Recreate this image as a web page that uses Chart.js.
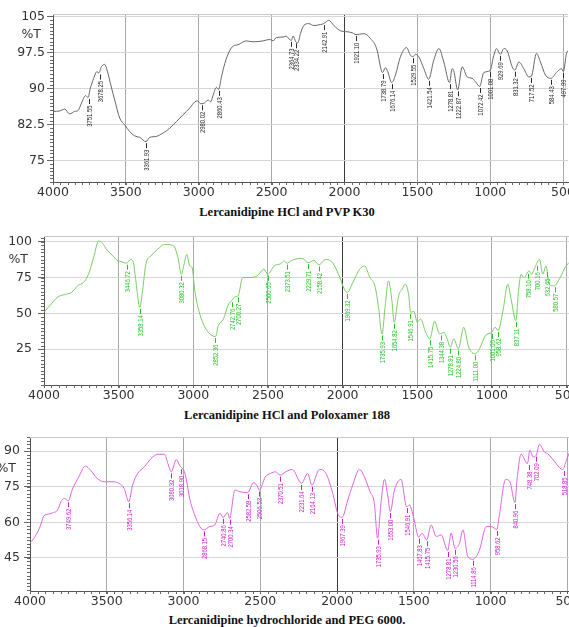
<!DOCTYPE html>
<html>
<head>
<meta charset="utf-8">
<script src="https://cdn.jsdelivr.net/npm/chart.js@4.4.1/dist/chart.umd.min.js"></script>
<style>
  body { margin: 0; background: #fff; width: 569px; height: 627px; position: relative; overflow: hidden; }
  .panel { position: absolute; left: 0; }
  .title { position: absolute; left: 0; width: 574px; text-align: center; font: bold 12.5px 'Liberation Serif', 'Times New Roman', serif; color: #111; white-space: nowrap; }
</style>
</head>
<body>
<div class="panel" style="top:0"><canvas id="pvpChart" width="569" height="200"></canvas></div>
<div class="title" style="top:205px">Lercanidipine HCl and PVP K30</div>
<div class="panel" style="top:225px"><canvas id="poloxamerChart" width="569" height="180"></canvas></div>
<div class="title" style="top:408px">Lercanidipine HCl and Poloxamer 188</div>
<div class="panel" style="top:430px"><canvas id="pegChart" width="569" height="180"></canvas></div>
<div class="title" style="top:613px">Lercanidipine hydrochloride and PEG 6000.</div>

<script>
// wavenumber ticks shared by all three spectra (cm-1)
const xTickValues = [4000, 3500, 3000, 2500, 2000, 1500, 1000, 500];

// Lercanidipine HCl + PVP K30
const pvpWavenumbers = [4000, 3954, 3920, 3886, 3851, 3828, 3805, 3776, 3760, 3744, 3721, 3698, 3686, 3668, 3645, 3629, 3600, 3577, 3542, 3508, 3474, 3439, 3405, 3362, 3336, 3291, 3245, 3199, 3153, 3108, 3062, 3027, 3009, 2986, 2959, 2936, 2918, 2901, 2879, 2863, 2844, 2821, 2787, 2764, 2730, 2673, 2627, 2558, 2513, 2490, 2467, 2421, 2400, 2380, 2365, 2352, 2334, 2320, 2302, 2279, 2245, 2210, 2165, 2142, 2108, 2073, 2027, 1982, 1947, 1921, 1895, 1867, 1822, 1776, 1753, 1739, 1719, 1703, 1676, 1650, 1616, 1574, 1547, 1530, 1513, 1490, 1455, 1422, 1387, 1352, 1318, 1279, 1261, 1250, 1223, 1192, 1158, 1124, 1101, 1072, 1044, 1001, 975, 956, 930, 906, 883, 849, 831, 803, 769, 735, 718, 682, 655, 621, 584, 540, 511, 498, 476, 460];
const pvpTransmittance = [85.2, 85.3, 85.7, 84.7, 85.2, 85.4, 86.9, 88.5, 88.1, 90.0, 92.1, 93.5, 93.2, 94.5, 95.0, 93.8, 90.3, 87.6, 83.8, 82.4, 81.0, 80.1, 79.8, 78.9, 79.8, 80.0, 80.7, 81.7, 83.1, 84.5, 85.9, 87.2, 87.4, 86.8, 87.0, 87.6, 87.2, 88.6, 90.2, 89.8, 92.4, 95.2, 97.9, 98.8, 99.1, 99.9, 99.7, 99.9, 100.2, 99.9, 100.6, 100.7, 100.9, 100.3, 100.0, 100.9, 99.7, 99.5, 101.4, 103.1, 103.5, 103.1, 103.3, 103.5, 104.2, 103.1, 102.0, 101.8, 101.6, 101.2, 101.3, 101.4, 100.4, 98.0, 94.5, 93.3, 94.3, 93.5, 91.2, 92.8, 96.6, 98.5, 96.9, 96.6, 97.1, 96.6, 94.1, 91.9, 95.9, 98.3, 95.5, 91.2, 94.1, 93.7, 89.7, 94.5, 92.4, 92.1, 91.4, 90.4, 93.3, 93.7, 96.9, 98.3, 97.1, 98.3, 97.8, 94.5, 93.8, 95.5, 94.1, 92.4, 92.5, 97.3, 95.5, 92.8, 92.1, 93.5, 94.1, 93.5, 97.3, 98.0];
const pvpPeaks = [3751.55, 3678.25, 3361.93, 2980.02, 2860.43, 2364.73, 2334.22, 2142.91, 1921.10, 1738.79, 1676.14, 1529.55, 1421.54, 1278.81, 1222.87, 1072.42, 1001.08, 929.69, 831.32, 717.52, 584.43, 497.99];
const pvpYTicks = [105, 97.5, 90, 82.5, 75];

// Lercanidipine HCl + Poloxamer 188
const poloxamerWavenumbers = [4000, 3962, 3905, 3849, 3815, 3770, 3736, 3702, 3668, 3634, 3611, 3577, 3544, 3510, 3476, 3447, 3419, 3401, 3385, 3358, 3340, 3318, 3284, 3239, 3193, 3148, 3126, 3103, 3080, 3062, 3044, 3024, 3008, 2990, 2963, 2933, 2900, 2852, 2832, 2798, 2764, 2743, 2719, 2700, 2669, 2628, 2572, 2527, 2501, 2459, 2414, 2391, 2374, 2341, 2273, 2230, 2193, 2158, 2114, 2068, 2023, 1989, 1969, 1932, 1886, 1852, 1818, 1784, 1761, 1736, 1716, 1693, 1670, 1655, 1625, 1602, 1580, 1557, 1545, 1523, 1500, 1478, 1444, 1416, 1384, 1350, 1322, 1300, 1279, 1256, 1225, 1189, 1156, 1111, 1078, 1044, 1001, 979, 959, 926, 894, 872, 840, 822, 805, 787, 751, 734, 713, 681, 660, 638, 617, 585, 543, 511, 485];
const poloxamerTransmittance = [50.7, 55.3, 61.6, 63.4, 64.6, 69.7, 71.5, 77.3, 88.9, 100.5, 99.3, 94.0, 90.7, 87.0, 85.9, 85.0, 87.7, 85.4, 72.7, 54.2, 65.7, 84.3, 90.0, 94.7, 98.1, 97.7, 96.3, 88.9, 77.3, 84.3, 91.2, 83.1, 81.9, 65.7, 51.9, 42.6, 36.8, 33.8, 41.4, 46.1, 56.5, 58.8, 61.6, 62.3, 75.0, 75.0, 76.2, 80.8, 77.3, 83.1, 84.7, 86.6, 85.0, 87.0, 88.4, 85.4, 87.0, 83.8, 87.7, 85.4, 76.2, 66.9, 64.6, 71.5, 80.8, 83.1, 75.0, 69.2, 55.3, 35.6, 54.2, 72.7, 58.8, 43.8, 62.3, 66.9, 70.4, 62.3, 50.7, 51.4, 43.8, 46.1, 36.8, 32.2, 44.4, 35.6, 36.8, 32.2, 26.4, 32.2, 25.2, 40.3, 26.4, 21.8, 26.4, 34.5, 36.8, 40.3, 38.0, 51.9, 70.4, 60.0, 44.9, 65.7, 77.3, 75.0, 79.6, 77.3, 81.9, 87.7, 77.3, 83.1, 70.4, 69.2, 75.0, 81.9, 85.4];
const poloxamerPeaks = [3446.72, 3358.14, 3080.32, 2852.36, 2742.76, 2700.27, 2500.65, 2373.51, 2229.71, 2158.42, 1969.32, 1735.93, 1654.82, 1546.91, 1415.75, 1344.38, 1278.91, 1224.80, 1111.00, 1001.06, 958.62, 837.11, 758.10, 700.16, 632.65, 580.57];
const poloxamerYTicks = [100, 75, 50, 25];

// Lercanidipine hydrochloride + PEG 6000
const pegWavenumbers = [4000, 3967, 3934, 3912, 3880, 3847, 3820, 3798, 3777, 3750, 3726, 3682, 3639, 3606, 3562, 3518, 3453, 3420, 3387, 3356, 3332, 3299, 3255, 3211, 3168, 3124, 3102, 3080, 3047, 3025, 3012, 2995, 2981, 2960, 2927, 2894, 2868, 2829, 2796, 2763, 2741, 2713, 2700, 2665, 2632, 2582, 2545, 2523, 2506, 2467, 2434, 2401, 2370, 2335, 2291, 2232, 2191, 2164, 2115, 2072, 2028, 1996, 1967, 1930, 1898, 1854, 1822, 1785, 1757, 1736, 1713, 1691, 1670, 1653, 1626, 1583, 1547, 1528, 1500, 1468, 1446, 1416, 1387, 1354, 1322, 1279, 1257, 1231, 1202, 1180, 1148, 1115, 1072, 1028, 996, 959, 944, 902, 874, 841, 828, 801, 760, 744, 723, 702, 682, 650, 629, 598, 530, 506, 480];
const pegTransmittance = [51.2, 54.0, 58.2, 62.4, 63.5, 64.1, 65.2, 68.7, 70.1, 69.1, 73.6, 79.2, 83.7, 82.0, 78.5, 77.1, 77.1, 76.4, 74.3, 68.7, 75.7, 80.6, 83.4, 86.9, 88.7, 88.7, 84.8, 81.3, 86.5, 84.0, 83.0, 81.5, 77.8, 70.1, 63.1, 58.2, 56.8, 58.2, 58.9, 63.8, 62.1, 64.1, 61.7, 73.6, 72.9, 72.5, 76.7, 75.7, 73.6, 79.2, 80.6, 81.3, 79.9, 81.3, 82.3, 76.4, 80.6, 75.7, 82.3, 80.6, 72.2, 63.8, 62.1, 69.4, 75.7, 82.3, 79.2, 72.9, 68.0, 53.3, 68.7, 78.1, 71.5, 64.5, 73.6, 78.1, 66.6, 67.3, 61.7, 53.7, 55.4, 52.6, 58.9, 54.0, 54.7, 48.1, 55.4, 49.0, 51.2, 56.8, 45.5, 44.4, 48.3, 58.2, 58.2, 57.0, 62.4, 78.1, 77.1, 68.3, 77.8, 88.7, 84.8, 90.4, 87.6, 88.3, 92.9, 89.7, 89.0, 86.9, 82.3, 86.2, 90.4];
const pegPeaks = [3749.62, 3356.14, 3080.32, 3018.90, 2868.15, 2740.86, 2700.34, 2582.58, 2506.53, 2370.51, 2231.64, 2164.13, 1967.39, 1735.93, 1653.00, 1546.91, 1467.83, 1415.75, 1278.81, 1230.56, 1114.86, 958.62, 840.96, 748.38, 702.09, 518.85];
const pegYTicks = [90, 75, 60, 45];

// layout + colours for each panel
const panels = [
  { id: 'pvpChart', wn: pvpWavenumbers, t: pvpTransmittance, peaks: pvpPeaks, yTicks: pvpYTicks,
    yMin: 70.5, yMax: 105.5, minorStep: 0.75, xMin: 466, axisWidth: 53, top: 14, right: 1, xAxisHeight: 18,
    tickPad: 2, line: '#666666', text: '#2a2a2a' },
  { id: 'poloxamerChart', wn: poloxamerWavenumbers, t: poloxamerTransmittance, peaks: poloxamerPeaks, yTicks: poloxamerYTicks,
    yMin: 0, yMax: 104, minorStep: 2.5, xMin: 484, axisWidth: 44, top: 11, right: 0, xAxisHeight: 20,
    tickPad: 6, line: 'rgb(120, 205, 100)', text: 'rgb(40, 195, 40)' },
  { id: 'pegChart', wn: pegWavenumbers, t: pegTransmittance, peaks: pegPeaks, yTicks: pegYTicks,
    yMin: 31, yMax: 96, minorStep: 1.5, xMin: 489, axisWidth: 30, top: 7, right: 0, xAxisHeight: 19,
    tickPad: 4, line: 'rgb(222, 100, 222)', text: 'rgb(205, 30, 205)' },
];

const tickFont = { family: 'DejaVu Sans', size: 12.5 };

function interpolate(wn, values, target) {
  for (let i = 0; i < wn.length - 1; i++) {
    if (wn[i] >= target && wn[i + 1] <= target) {
      const f = (wn[i] - target) / (wn[i] - wn[i + 1]);
      return values[i] + f * (values[i + 1] - values[i]);
    }
  }
  return values[values.length - 1];
}

// lowest point of the trace close to a labelled band
function lowestNear(wn, values, target) {
  let best = interpolate(wn, values, target);
  wn.forEach((w, i) => {
    if (Math.abs(w - target) <= 12 && values[i] < best) best = values[i];
  });
  return best;
}

function makeDecor(p) {
  return {
    id: 'spectrumDecor',
    afterDraw(chart) {
      const { ctx, chartArea: area, scales: { x, y } } = chart;
      ctx.save();

      // thin frame line on top
      ctx.strokeStyle = '#c8c8c8';
      ctx.lineWidth = 1;
      ctx.beginPath();
      ctx.moveTo(area.left, area.top + 0.5);
      ctx.lineTo(area.right, area.top + 0.5);
      ctx.stroke();

      // minor ticks
      ctx.strokeStyle = '#666';
      ctx.beginPath();
      const base = p.yTicks[p.yTicks.length - 1];
      const n0 = Math.ceil((p.yMin - base) / p.minorStep);
      for (let i = n0; base + i * p.minorStep <= p.yMax; i++) {
        const py = Math.round(y.getPixelForValue(base + i * p.minorStep)) + 0.5;
        ctx.moveTo(area.left - 3, py);
        ctx.lineTo(area.left, py);
      }
      for (let v = Math.ceil(p.xMin / 50) * 50; v <= 4000; v += 50) {
        const px = Math.round(x.getPixelForValue(v)) + 0.5;
        ctx.moveTo(px, area.bottom);
        ctx.lineTo(px, area.bottom + 3);
      }
      ctx.stroke();

      // %T label between the two top ticks
      ctx.fillStyle = '#333';
      ctx.font = tickFont.size + 'px ' + tickFont.family;
      ctx.textAlign = 'right';
      ctx.textBaseline = 'middle';
      const midY = y.getPixelForValue((p.yTicks[0] + p.yTicks[1]) / 2);
      ctx.fillText('%T', area.left - 6 - p.tickPad - 4, midY);

      // band labels
      ctx.fillStyle = p.text;
      ctx.strokeStyle = p.text;
      ctx.font = '7.5px "Liberation Sans", Arial, sans-serif';
      p.peaks.forEach((pk) => {
        const px = Math.round(x.getPixelForValue(pk)) + 0.5;
        if (px > area.right) return;
        const py = y.getPixelForValue(lowestNear(p.wn, p.t, pk)) + 1.5;
        ctx.beginPath();
        ctx.moveTo(px, py);
        ctx.lineTo(px, py + 5);
        ctx.stroke();
        ctx.save();
        ctx.translate(px, py + 6.5);
        ctx.rotate(-Math.PI / 2);
        ctx.scale(0.78, 1);
        ctx.textAlign = 'right';
        ctx.textBaseline = 'middle';
        ctx.fillText(pk.toFixed(2), 0, 0);
        ctx.restore();
      });
      ctx.restore();
    },
  };
}

function renderSpectrum(p) {
  const canvas = document.getElementById(p.id);
  new Chart(canvas, {
    type: 'line',
    data: {
      datasets: [{
        data: p.wn.map((w, i) => ({ x: w, y: p.t[i] })),
        borderColor: p.line,
        borderWidth: 1,
        pointRadius: 0,
        cubicInterpolationMode: 'monotone',
        fill: false,
      }],
    },
    options: {
      responsive: false,
      animation: false,
      events: [],
      layout: { padding: { top: p.top, right: p.right, left: 0, bottom: 0 } },
      plugins: { legend: { display: false }, tooltip: { enabled: false } },
      scales: {
        x: {
          type: 'linear',
          reverse: true,
          min: p.xMin,
          max: 4000,
          afterBuildTicks: (s) => { s.ticks = xTickValues.map((v) => ({ value: v })); },
          afterFit: (s) => { s.height = p.xAxisHeight; s.paddingLeft = 0; s.paddingRight = 0; },
          ticks: { autoSkip: false, maxRotation: 0, padding: 0, color: '#333', font: tickFont, callback: (v) => String(v) },
          grid: {
            color: (c) => (c.tick && c.tick.value === 2000 ? '#3a3a3a' : '#a9a9a9'),
            tickColor: '#666',
            tickLength: 3,
          },
          border: { color: '#555' },
        },
        y: {
          min: p.yMin,
          max: p.yMax,
          afterBuildTicks: (s) => { s.ticks = p.yTicks.map((v) => ({ value: v })); },
          afterFit: (s) => { s.width = p.axisWidth; s.paddingTop = 0; s.paddingBottom = 0; },
          ticks: { padding: p.tickPad, color: '#333', font: tickFont, callback: (v) => String(v) },
          grid: { color: '#d6d6d6', tickColor: '#666', tickLength: 6 },
          border: { color: '#555' },
        },
      },
    },
    plugins: [makeDecor(p)],
  });
}

panels.forEach((p) => renderSpectrum(p));
</script>
</body>
</html>
